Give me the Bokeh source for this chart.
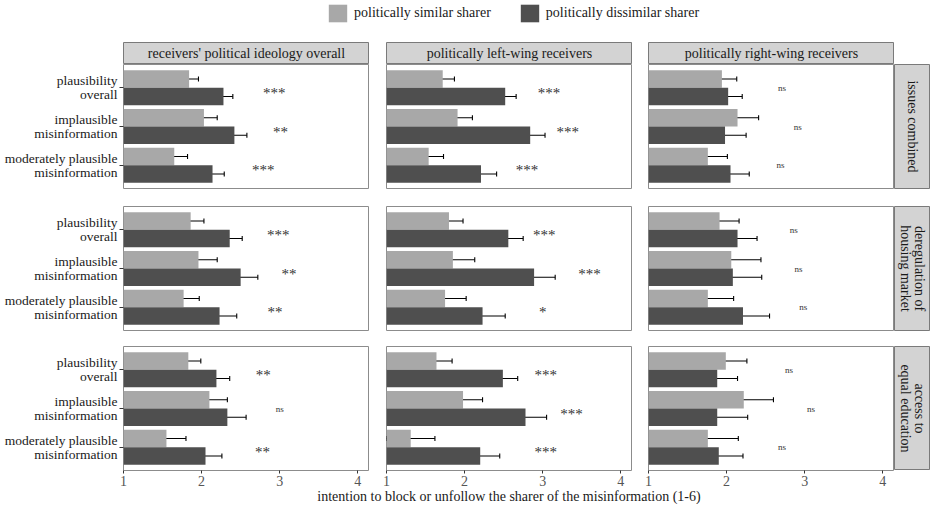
import math
from bokeh.plotting import figure
from bokeh.models import (Range1d, FixedTicker, ColumnDataSource, Whisker, TeeHead,
                          Legend, LegendItem)
from bokeh.layouts import column, row
from bokeh.embed import file_html
from bokeh.resources import INLINE
from bokeh.core.properties import value

FONT = "Liberation Serif"
LIGHT = "#a8a8a8"
DARK = "#4f4f4f"
STRIP = "#d3d3d3"
BORDER = "#8c8c8c"

# ---------------- data ----------------
categories = ["plausibility\noverall", "implausible\nmisinformation",
              "moderately plausible\nmisinformation"]
receiver_groups = ["receivers' political ideology overall",
                   "politically left-wing receivers",
                   "politically right-wing receivers"]
issues = ["issues combined", "deregulation of\nhousing market",
          "access to\nequal education"]
sharers = ["politically similar sharer", "politically dissimilar sharer"]
x_ticks = [1, 2, 3, 4]
x_title = "intention to block or unfollow the sharer of the misinformation (1-6)"

# each list: one inner list per receiver group, values per category
combined_similar_mean = [[1.84, 2.03, 1.65], [1.72, 1.91, 1.54], [1.94, 2.14, 1.76]]
combined_similar_low = [[1.73, 1.87, 1.49], [1.59, 1.73, 1.33], [1.77, 1.88, 1.51]]
combined_similar_high = [[1.96, 2.20, 1.82], [1.87, 2.10, 1.73], [2.13, 2.41, 2.01]]
combined_dissimilar_mean = [[2.28, 2.42, 2.14], [2.52, 2.84, 2.21], [2.02, 1.98, 2.05]]
combined_dissimilar_low = [[2.17, 2.25, 1.99], [2.39, 2.65, 2.03], [1.83, 1.71, 1.82]]
combined_dissimilar_high = [[2.40, 2.58, 2.29], [2.66, 3.03, 2.41], [2.20, 2.25, 2.29]]

housing_similar_mean = [[1.86, 1.96, 1.77], [1.80, 1.85, 1.75], [1.91, 2.06, 1.76]]
housing_similar_low = [[1.71, 1.73, 1.55], [1.61, 1.58, 1.49], [1.65, 1.66, 1.43]]
housing_similar_high = [[2.03, 2.20, 1.97], [1.98, 2.13, 2.02], [2.16, 2.44, 2.09]]
housing_dissimilar_mean = [[2.36, 2.50, 2.23], [2.56, 2.89, 2.23], [2.14, 2.08, 2.21]]
housing_dissimilar_low = [[2.20, 2.27, 2.00], [2.37, 2.63, 1.95], [1.88, 1.71, 1.85]]
housing_dissimilar_high = [[2.52, 2.72, 2.45], [2.75, 3.16, 2.52], [2.39, 2.45, 2.55]]

education_similar_mean = [[1.83, 2.10, 1.55], [1.64, 1.98, 1.31], [1.99, 2.22, 1.76]]
education_similar_low = [[1.66, 1.89, 1.30], [1.44, 1.72, 1.00], [1.72, 1.84, 1.38]]
education_similar_high = [[1.99, 2.33, 1.80], [1.84, 2.23, 1.62], [2.26, 2.60, 2.15]]
education_dissimilar_mean = [[2.19, 2.33, 2.05], [2.49, 2.78, 2.20], [1.88, 1.88, 1.90]]
education_dissimilar_low = [[2.04, 2.09, 1.86], [2.31, 2.51, 1.95], [1.64, 1.49, 1.58]]
education_dissimilar_high = [[2.36, 2.57, 2.26], [2.68, 3.05, 2.45], [2.14, 2.27, 2.21]]

combined_sig = [["***", "**", "***"], ["***", "***", "***"], ["ns", "ns", "ns"]]
housing_sig = [["***", "**", "**"], ["***", "***", "*"], ["ns", "ns", "ns"]]
education_sig = [["**", "ns", "**"], ["***", "***", "***"], ["ns", "ns", "ns"]]
# x position (scale units) where each significance label sits
combined_sig_x = [[2.93, 3.01, 2.79], [3.08, 3.32, 2.80], [2.71, 2.91, 2.69]]
housing_sig_x = [[2.98, 3.12, 2.94], [3.02, 3.60, 3.00], [2.86, 2.92, 2.98]]
education_sig_x = [[2.79, 3.00, 2.78], [3.04, 3.37, 3.04], [2.80, 3.08, 2.71]]

issue_data = [
    (combined_similar_mean, combined_similar_low, combined_similar_high,
     combined_dissimilar_mean, combined_dissimilar_low, combined_dissimilar_high,
     combined_sig, combined_sig_x),
    (housing_similar_mean, housing_similar_low, housing_similar_high,
     housing_dissimilar_mean, housing_dissimilar_low, housing_dissimilar_high,
     housing_sig, housing_sig_x),
    (education_similar_mean, education_similar_low, education_similar_high,
     education_dissimilar_mean, education_dissimilar_low, education_dissimilar_high,
     education_sig, education_sig_x),
]

# ---------------- layout constants ----------------
FW, FH = 246, 124
LEFTS = [123, 17, 16]
GAPS = [18, 16, 0]
STRIP_W = 36
n_cat = len(categories)
pos = [n_cat - i for i in range(n_cat)]   # top category highest
DODGE = 0.225
BAR_H = 0.45
SPAN_W = 3 * FW + LEFTS[1] + LEFTS[2]


def base_fig(**kw):
    f = figure(output_backend="svg", toolbar_location=None, **kw)
    f.grid.visible = False
    return f


def panel(r, c):
    sm, sl, sh, dm, dl, dh, sig, sigx = issue_data[r]
    p = base_fig(frame_width=FW, frame_height=FH,
                 x_range=Range1d(1, 4.15), y_range=Range1d(0.4, n_cat + 0.6),
                 min_border_left=LEFTS[c], min_border_right=0, min_border_top=0,
                 min_border_bottom=GAPS[r],
                 x_axis_location="below" if r == 2 else None,
                 y_axis_location="left" if c == 0 else None)
    p.background_fill_color = "white"
    p.border_fill_color = "white"
    p.outline_line_color = BORDER
    p.outline_line_width = 1

    for means, lows, highs, col, off in ((sm, sl, sh, LIGHT, DODGE), (dm, dl, dh, DARK, -DODGE)):
        src = ColumnDataSource(dict(y=[v + off for v in pos], right=means[c],
                                    lo=lows[c], hi=highs[c]))
        p.hbar(y="y", left=1, right="right", height=BAR_H, source=src,
               fill_color=col, line_color=None)
        w = Whisker(source=src, base="y", lower="lo", upper="hi", dimension="width",
                    line_color="black", line_width=1.1,
                    upper_head=TeeHead(size=5, line_color="black", line_width=1.1),
                    lower_head=TeeHead(size=5, line_color="black", line_width=1.1))
        p.add_layout(w)

    labels = sig[c]
    tsrc = ColumnDataSource(dict(
        x=sigx[c], y=pos, text=labels,
        size=["9px" if t == "ns" else "15px" for t in labels],
        yoff=[0 if t == "ns" else 5 for t in labels]))
    p.text(x="x", y="y", text="text", source=tsrc, text_align="center",
           text_baseline="middle", text_font=value(FONT), text_font_size="size",
           y_offset="yoff", text_color="#333333")

    if c == 0:
        ax = p.yaxis[0]
        ax.ticker = FixedTicker(ticks=pos)
        ax.major_label_overrides = {pos[i]: categories[i] for i in range(n_cat)}
        ax.major_label_text_font = FONT
        ax.major_label_text_font_size = "13.5px"
        ax.major_label_text_color = "#1a1a1a"
        ax.major_label_text_line_height = 0.95
        ax.major_label_standoff = 2
        ax.major_tick_out = 4
        ax.major_tick_in = 0
        ax.minor_tick_line_color = None
        ax.axis_line_color = None
        ax.major_tick_line_color = "#333333"
    if r == 2:
        ax = p.xaxis[0]
        ax.ticker = FixedTicker(ticks=x_ticks)
        ax.major_label_text_font = FONT
        ax.major_label_text_font_size = "14px"
        ax.major_label_text_color = "#555555"
        ax.major_label_standoff = 2
        ax.major_tick_out = 3
        ax.major_tick_in = 0
        ax.minor_tick_line_color = None
        ax.axis_line_color = None
        ax.major_tick_line_color = "#333333"
    return p


def strip_top(c):
    s = base_fig(frame_width=FW, frame_height=22, x_range=Range1d(0, 1), y_range=Range1d(0, 1),
                 min_border_left=LEFTS[c], min_border_right=0, min_border_top=0,
                 min_border_bottom=0, x_axis_location=None, y_axis_location=None)
    s.background_fill_color = STRIP
    s.border_fill_color = "white"
    s.outline_line_color = "#7a7a7a"
    s.text(x=[0.5], y=[0.5], text=[receiver_groups[c]], text_align="center",
           text_baseline="middle", text_font=value(FONT), text_font_size="14px",
           text_color="#1a1a1a")
    return s


def strip_right(r):
    s = base_fig(frame_width=STRIP_W, frame_height=FH, x_range=Range1d(0, 1), y_range=Range1d(0, 1),
                 min_border_left=0, min_border_right=0, min_border_top=0,
                 min_border_bottom=GAPS[r], x_axis_location=None, y_axis_location=None)
    s.background_fill_color = STRIP
    s.border_fill_color = "white"
    s.outline_line_color = "#7a7a7a"
    s.text(x=[0.5], y=[0.5], text=[issues[r]], text_align="center",
           text_baseline="middle", angle=-math.pi / 2, text_font=value(FONT),
           text_font_size="14px", text_color="#1a1a1a", text_line_height=0.95)
    return s


# legend (bars drawn off-frame only to feed the legend glyphs)
lg = base_fig(frame_width=SPAN_W, frame_height=42, x_range=Range1d(0, 1), y_range=Range1d(0, 1),
              min_border_left=LEFTS[0], min_border_right=0, min_border_top=0, min_border_bottom=0,
              x_axis_location=None, y_axis_location=None)
lg.outline_line_color = None
r_sim = lg.hbar(y=pos, left=1, right=combined_similar_mean[0], height=BAR_H,
                fill_color=LIGHT, line_color=None)
r_dis = lg.hbar(y=pos, left=1, right=combined_dissimilar_mean[0], height=BAR_H,
                fill_color=DARK, line_color=None)
legend = Legend(items=[LegendItem(label=sharers[0], renderers=[r_sim]),
                       LegendItem(label=sharers[1], renderers=[r_dis])],
                orientation="horizontal", location=(203, 18),
                glyph_width=23, glyph_height=22, label_height=22, label_standoff=5,
                spacing=27, padding=0, margin=0, border_line_color=None,
                background_fill_alpha=0, label_text_font=FONT,
                label_text_font_size="14px", label_text_color="#1a1a1a")
lg.add_layout(legend)

header = row(strip_top(0), strip_top(1), strip_top(2))
rows = [row(panel(r, 0), panel(r, 1), panel(r, 2), strip_right(r)) for r in range(3)]

tf = base_fig(frame_width=SPAN_W, frame_height=16,
              x_range=Range1d(0, 1), y_range=Range1d(0, 1),
              min_border_left=LEFTS[0], min_border_right=0, min_border_top=0,
              min_border_bottom=0, x_axis_location=None, y_axis_location=None)
tf.outline_line_color = None
tf.text(x=[0.5], y=[0.5], text=[x_title], text_align="center", text_baseline="middle",
        text_font=value(FONT), text_font_size="14px", text_color="#1a1a1a")

layout = column(lg, header, *rows, tf)
open("out.html", "w").write(file_html(layout, INLINE))
